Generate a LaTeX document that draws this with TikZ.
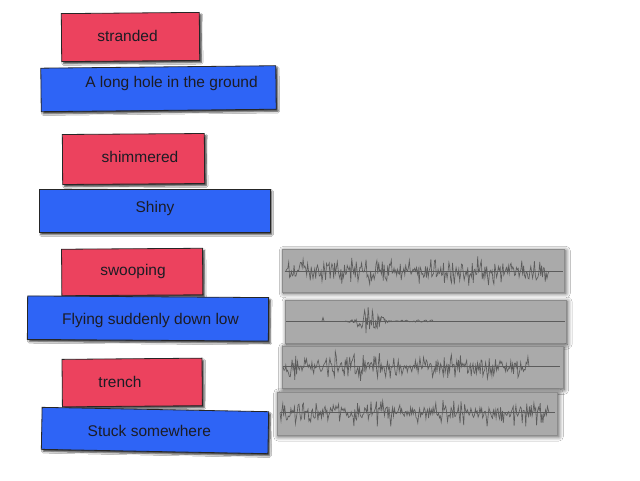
\documentclass[tikz,border=0pt]{standalone}
\usepackage{fontspec}
\setmainfont{Liberation Sans}
\usetikzlibrary{shadows,shadows.blur}
\definecolor{cardred}{RGB}{236,66,94}
\definecolor{cardblue}{RGB}{46,100,246}
\definecolor{panelgray}{RGB}{170,170,170}
\definecolor{wavegray}{RGB}{92,92,92}
\definecolor{inkdark}{RGB}{28,28,36}
\tikzset{
  card/.style={draw=black!85, line width=0.8pt, inner sep=0pt, outer sep=0pt,
    blur shadow={shadow xshift=1.8pt, shadow yshift=-2.2pt, shadow blur radius=1.6pt, shadow blur steps=5, shadow opacity=75}},
  redcard/.style={card, fill=cardred},
  bluecard/.style={card, fill=cardblue},
  word/.style={font=\fontsize{15.5}{18}\selectfont, text=inkdark, inner sep=0pt},
  panel/.style={fill=panelgray, draw=black!45, line width=0.4pt, inner sep=0pt,
    blur shadow={shadow xshift=1.5pt, shadow yshift=-1.5pt, shadow blur radius=4.5pt, shadow blur steps=10, shadow opacity=70}},
  wave/.style={draw=wavegray, line width=0.65pt, line join=miter},
  baseln/.style={draw=wavegray, line width=0.6pt}
}
\begin{document}
\begin{tikzpicture}[x=1pt,y=-1pt]
\useasboundingbox (0,0) rectangle (640,480);
\fill[white] (0,0) rectangle (640,480);

% pair 1
\node[redcard, minimum width=138pt, minimum height=48pt, rotate=0.5] (r1) at (130.5,37) {};
\node[bluecard, minimum width=235pt, minimum height=43.5pt, rotate=0.6] (b1) at (158.5,88.7) {};
\node[word] (t1) at (127.5,35.5) {stranded};
\node[word] (u1) at (171.5,83) {A long hole in the ground};

% pair 2
\node[redcard, minimum width=142pt, minimum height=50pt, rotate=0.4] (r2) at (133.5,159) {};
\node[bluecard, minimum width=231pt, minimum height=43.5pt] (b2) at (154.5,210.7) {};
\node[word] (t2) at (140,156.5) {shimmered};
\node[word] (u2) at (155,208.5) {Shiny};

% pair 3
\node[redcard, minimum width=141pt, minimum height=46.5pt, rotate=0.4] (r3) at (132.2,272) {};
\node[bluecard, minimum width=241pt, minimum height=43.5pt, rotate=-0.4] (b3) at (148,318.5) {};
\node[word] (t3) at (133,271.5) {swooping};
\node[word] (u3) at (150.5,320) {Flying suddenly down low};

% pair 4
\node[redcard, minimum width=140pt, minimum height=47.5pt, rotate=0.5] (r4) at (132.2,382.5) {};
\node[bluecard, minimum width=226.6pt, minimum height=42pt, rotate=-1.1] (b4) at (155,430.5) {};
\node[word] (t4) at (120,381.5) {trench};
\node[word] (u4) at (149.3,431) {Stuck somewhere};

% waveform panels
\node[panel, minimum width=282pt, minimum height=42.5pt] (p1) at (423.3,270.5) {};
\node[panel, minimum width=281pt, minimum height=43pt] (p2) at (425.5,321.5) {};
\node[panel, minimum width=281pt, minimum height=42.3pt] (p3) at (422.2,367.2) {};
\node[panel, minimum width=280.6pt, minimum height=43.3pt] (p4) at (417,413.4) {};

\pgfmathsetseed{4217}
% panel 1
\draw[baseln] (285,271.7) -- (563,271.7);
\draw[wave] (285,271.7) \foreach \x in {286,286.9,...,548} { -- (\x,{271.7+rand*(3+13*rnd)}) } -- (549,271.7);
% panel 2
\draw[baseln] (286,321) -- (565,321);
\draw[wave] (322,321) -- (323,317.5) -- (324,321);
\draw[wave] (345,321) \foreach \x in {345.7,346.4,...,400} { -- (\x,{321+rand*(0.6+14*exp(-((\x-369)/12)^2))}) } -- (401,321);
\draw[wave] (401,321) \foreach \x in {402,403.5,...,432} { -- (\x,{321+rand*1.2}) } -- (433,321);
% panel 3
\draw[baseln] (283,366.7) -- (560,366.7);
\draw[wave] (283,366.7) \foreach \x in {284,284.9,...,528} { -- (\x,{366.7+rand*(3+13*rnd)}) } -- (529,366.7);
% panel 4
\draw[baseln] (280,412.7) -- (555,412.7);
\draw[wave] (280,412.7) \foreach \x in {281,281.9,...,548} { -- (\x,{412.7+rand*(3+12*rnd)}) } -- (549,412.7);
\end{tikzpicture}
\end{document}
